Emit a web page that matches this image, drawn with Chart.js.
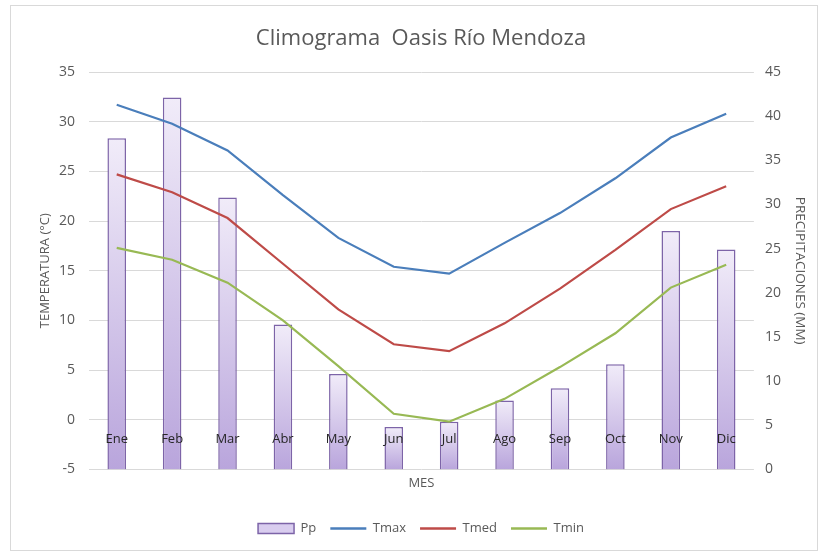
<!DOCTYPE html>
<html>
<head>
<meta charset="utf-8">
<title>Climograma Oasis Río Mendoza</title>
<script src="https://cdn.jsdelivr.net/npm/chart.js@4.4.0/dist/chart.umd.min.js"></script>
<style>
html, body { margin: 0; padding: 0; background: #fff; }
#marco { position: absolute; left: 10px; top: 5px; width: 808px; height: 546px; border: 1px solid #d9d9d9; box-sizing: border-box; }
#clima { position: absolute; left: 0; top: 0; }
</style>
</head>
<body>
<div id="marco"></div>
<canvas id="clima" width="822" height="552"></canvas>
<script>
// ---- datos ----
var meses = ["Ene", "Feb", "Mar", "Abr", "May", "Jun", "Jul", "Ago", "Sep", "Oct", "Nov", "Dic"];
var pp   = [37.5, 42.1, 30.8, 16.4, 10.8, 4.8, 5.4, 7.8, 9.2, 11.9, 27.0, 24.9];
var tmax = [31.7, 29.8, 27.1, 22.6, 18.3, 15.4, 14.7, 17.8, 20.8, 24.3, 28.4, 30.8];
var tmed = [24.7, 22.9, 20.3, 15.7, 11.1, 7.6, 6.9, 9.7, 13.2, 17.1, 21.2, 23.5];
var tmin = [17.3, 16.1, 13.8, 10.0, 5.4, 0.6, -0.2, 2.1, 5.3, 8.7, 13.3, 15.6];
var ticksTemp = [-5, 35, 5];
var ticksPp = [0, 45, 5];

var gris = "#595959";
var fuente = "'Open Sans', 'Noto Sans', sans-serif";

// degradado de las barras (claro arriba, lila abajo)
function rellenoBarra(ctx) {
    var chart = ctx.chart;
    var area = chart.chartArea;
    if (!area || ctx.type !== "data") return "#d9cdef";
    var top = chart.scales.y2.getPixelForValue(ctx.raw);
    var g = chart.ctx.createLinearGradient(0, top, 0, area.bottom);
    g.addColorStop(0, "#f1ecf9");
    g.addColorStop(1, "#b9a5dc");
    return g;
}

var ctx = document.getElementById("clima").getContext("2d");
var chart = new Chart(ctx, {
    data: {
        labels: meses,
        datasets: [
            { type: "bar", label: "Pp", data: pp, yAxisID: "y2", order: 10,
              backgroundColor: rellenoBarra, borderColor: "#7d64a8", borderWidth: 1.5,
              barPercentage: 0.335, categoryPercentage: 1 },
            { type: "line", label: "Tmax", data: tmax, yAxisID: "y", order: 1,
              borderColor: "#4a7ebb", backgroundColor: "#4a7ebb", borderWidth: 2.2, pointRadius: 0, tension: 0 },
            { type: "line", label: "Tmed", data: tmed, yAxisID: "y", order: 2,
              borderColor: "#be4b48", backgroundColor: "#be4b48", borderWidth: 2.2, pointRadius: 0, tension: 0 },
            { type: "line", label: "Tmin", data: tmin, yAxisID: "y", order: 3,
              borderColor: "#98b954", backgroundColor: "#98b954", borderWidth: 2.2, pointRadius: 0, tension: 0 }
        ]
    },
    options: {
        responsive: false,
        animation: false,
        layout: { padding: { top: 26, left: 26, right: 6, bottom: 7 } },
        plugins: {
            title: {
                display: true,
                text: "Climograma  Oasis Río Mendoza",
                color: gris,
                font: { family: fuente, size: 22, weight: "normal" },
                padding: { top: 0, bottom: 19.6 }
            },
            legend: {
                position: "bottom",
                labels: {
                    color: gris,
                    font: { family: fuente, size: 13 },
                    usePointStyle: true,
                    pointStyleWidth: 36,
                    boxHeight: 10,
                    padding: 14,
                    sort: function(a, b) { return a.datasetIndex - b.datasetIndex; },
                    generateLabels: function(c) {
                        var items = Chart.defaults.plugins.legend.labels.generateLabels(c);
                        items.forEach(function(it) {
                            var ds = c.data.datasets[it.datasetIndex];
                            if (ds.type === "bar") {
                                it.pointStyle = "rect";
                                it.fillStyle = "#d9cdef";
                                it.strokeStyle = "#7d64a8";
                                it.lineWidth = 1.5;
                            } else {
                                it.pointStyle = "line";
                                it.strokeStyle = ds.borderColor;
                                it.lineWidth = 2.5;
                            }
                        });
                        return items;
                    }
                }
            },
            tooltip: { enabled: false }
        },
        scales: {
            // etiquetas de meses sobre la línea de 0 °C, encima de las barras
            x: {
                type: "category",
                position: { y: 0 },
                grid: { display: false },
                border: { display: false },
                ticks: { z: 1, color: "#262626", font: { family: fuente, size: 13 }, padding: 4, maxRotation: 0 }
            },
            // eje sólo para el título "MES" al pie
            xt: {
                type: "category",
                labels: meses,
                position: "bottom",
                grid: { display: false, drawTicks: false },
                border: { display: false },
                ticks: { display: false },
                title: { display: true, text: "MES", color: gris, font: { family: fuente, size: 13 }, padding: { top: 6, bottom: 17 } }
            },
            y: {
                position: "left",
                min: ticksTemp[0], max: ticksTemp[1],
                grid: { color: "#d9d9d9", lineWidth: 1, drawTicks: false },
                border: { display: false },
                ticks: { stepSize: ticksTemp[2], color: gris, font: { family: fuente, size: 14 }, padding: 14 },
                title: { display: true, text: "TEMPERATURA (°C)", color: gris, font: { family: fuente, size: 13 }, padding: { top: 11.2, bottom: -7.8 } }
            },
            y2: {
                position: "right",
                min: ticksPp[0], max: ticksPp[1],
                grid: { display: false, drawTicks: false },
                border: { display: false },
                ticks: { stepSize: ticksPp[2], color: gris, font: { family: fuente, size: 14 }, padding: 11 },
                title: { display: true, text: "PRECIPITACIONES (MM)", color: gris, font: { family: fuente, size: 13.5 }, padding: { top: 7.9, bottom: 0 } }
            }
        }
    }
});
</script>
</body>
</html>
